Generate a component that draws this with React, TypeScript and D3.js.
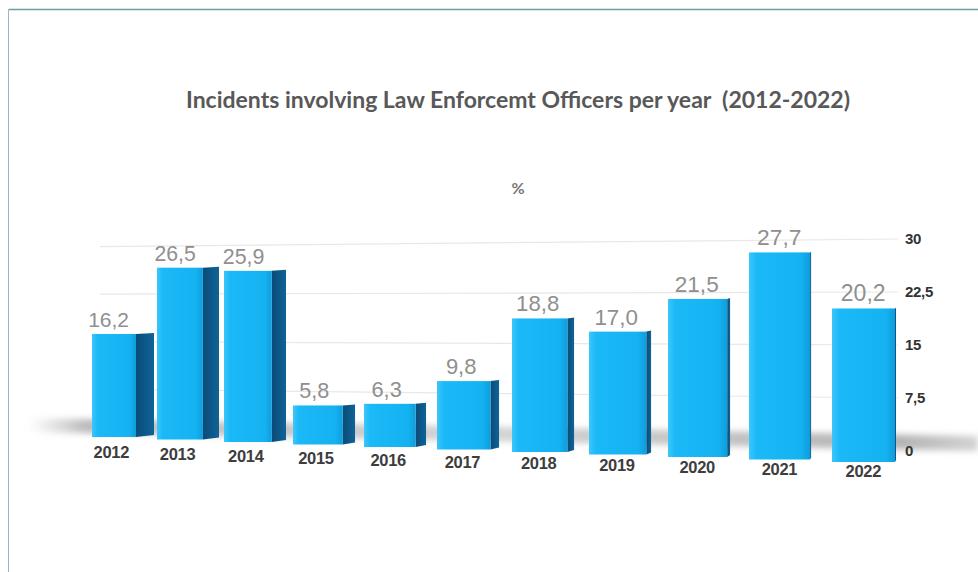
import React from 'react';
import * as d3 from 'd3';

const years = ['2012', '2013', '2014', '2015', '2016', '2017', '2018', '2019', '2020', '2021', '2022'];
const values = [16.2, 26.5, 25.9, 5.8, 6.3, 9.8, 18.8, 17.0, 21.5, 27.7, 20.2];
const yTicks = [0, 7.5, 15, 22.5, 30];
const title = 'Incidents involving Law Enforcemt Officers per year  (2012-2022)';
const unitLabel = '%';

const W = 978;
const H = 572;

const fmtVal = (v: number) => v.toFixed(1).replace('.', ',');
const fmtTick = (v: number) => String(v).replace('.', ',');

export default function App() {
  const n = values.length;
  const last = n - 1;
  // perspective helpers (all d3 scales over the bar index)
  const baseY = d3.scaleLinear().domain([0, last]).range([437, 462]);
  const unitPx = d3.scaleLinear().domain([0, last]).range([6.36, 7.6]);
  const frontW = d3.scaleLinear().domain([0, last]).range([44, 63]);
  const sideW = d3.scaleLinear().domain([0, last - 1]).range([18, 1]).clamp(true);
  const step = d3.scaleLinear().domain([0, last - 1]).range([65, 83]);
  const startX = 92;
  const steps = d3.range(n).map((i) => (i === 0 ? 0 : step(i - 1)));
  const lefts = Array.from(d3.cumsum(steps)).map((s) => startX + s);
  const valFont = d3.scaleLinear().domain([0, last]).range([21, 23]);
  const yearBase = d3.scaleLinear().domain([0, last]).range([458, 477]);

  // back wall: gridline y positions at left & right ends
  const axisY = d3.scaleLinear().domain([0, 30]).range([451, 239]);
  const gridLeftY = d3.scaleLinear().domain([0, 30]).range([436, 247]);
  const gridX0 = 100;
  const gridX1 = 898;
  const gridLineY0 = (t: number) => gridLeftY(t) + ((axisY(t) - gridLeftY(t)) * (gridX0 - 60)) / (gridX1 - 60);

  const bars = values.map((v, i) => {
    const x = lefts[i];
    const w = frontW(i);
    const s = sideW(i);
    const yb = baseY(i);
    const yt = yb - v * unitPx(i);
    return { v, i, x, w, s, yb, yt };
  });

  return (
    <svg
      width={W}
      height={H}
      viewBox={`0 0 ${W} ${H}`}
      style={{ position: 'fixed', left: 0, top: 0, display: 'block', background: '#fff' }}
    >
      <defs>
        <linearGradient id="front" x1="0" x2="1" y1="0" y2="0">
          <stop offset="0" stopColor="#3cc6fb" />
          <stop offset="0.12" stopColor="#1cb9f8" />
          <stop offset="0.85" stopColor="#15b2f2" />
          <stop offset="1" stopColor="#0e9ddb" />
        </linearGradient>
        <linearGradient id="side" x1="0" x2="1" y1="0" y2="0">
          <stop offset="0" stopColor="#0a4b78" />
          <stop offset="1" stopColor="#0e6497" />
        </linearGradient>
        <linearGradient id="floorFade" x1="28" x2="978" y1="0" y2="0" gradientUnits="userSpaceOnUse">
          <stop offset="0" stopColor="#c4c4c4" stopOpacity="0" />
          <stop offset="0.06" stopColor="#b4b4b4" stopOpacity="0.9" />
          <stop offset="0.5" stopColor="#c8c8c8" stopOpacity="0.8" />
          <stop offset="0.92" stopColor="#b0b0b0" stopOpacity="0.95" />
          <stop offset="1" stopColor="#c0c0c0" stopOpacity="0.7" />
        </linearGradient>
        <filter id="blur" x="-5%" y="-80%" width="110%" height="260%">
          <feGaussianBlur stdDeviation="3" />
        </filter>
      </defs>

      {/* frame */}
      <line x1={8.5} y1={9.5} x2={W} y2={9.5} stroke="#6f9aa8" strokeWidth={1.5} />
      <line x1={8.5} y1={9.5} x2={8.5} y2={H} stroke="#9db5c0" strokeWidth={1} />

      {/* title */}
      <text
        x={518}
        y={108}
        textAnchor="middle"
        fontFamily="Lato, 'Open Sans', sans-serif"
        fontWeight={700}
        fontSize={23}
        fill="#585858"
        style={{ whiteSpace: 'pre' }}
      >
        {title}
      </text>
      <text x={518} y={194} textAnchor="middle" fontFamily="Lato, sans-serif" fontWeight={700} fontSize={16} fill="#777">
        {unitLabel}
      </text>

      {/* gridlines on back wall */}
      {yTicks
        .filter((t) => t > 0)
        .map((t) => (
          <line key={t} x1={gridX0} y1={gridLineY0(t)} x2={gridX1} y2={axisY(t)} stroke="#e8e8e8" strokeWidth={1.2} />
        ))}

      {/* floor shadow */}
      <polygon
        points={`28,418 ${W},436 ${W},451 28,432`}
        fill="url(#floorFade)"
        filter="url(#blur)"
      />

      {/* y-axis labels */}
      {yTicks.map((t) => (
        <text
          key={t}
          x={905}
          y={axisY(t) + 5}
          fontFamily="'Liberation Sans', Arial, sans-serif"
          fontWeight={700}
          fontSize={15}
          fill="#333"
          letterSpacing={-0.3}
        >
          {fmtTick(t)}
        </text>
      ))}

      {/* bars */}
      {bars.map((b) => (
        <g key={b.i}>
          {b.s > 0.5 && (
            <polygon
              points={`${b.x + b.w},${b.yt} ${b.x + b.w + b.s},${b.yt - 1} ${b.x + b.w + b.s},${b.yb - 2} ${b.x + b.w},${b.yb}`}
              fill="url(#side)"
            />
          )}
          <rect x={b.x} y={b.yt} width={b.w} height={b.yb - b.yt} fill="url(#front)" />
          <text
            x={b.x + b.w / 2 - b.s * 0.3}
            y={b.yt - 7}
            textAnchor="middle"
            fontFamily="'Liberation Sans', Arial, sans-serif"
            fontSize={valFont(b.i)}
            fill="#8f8f8f"
          >
            {fmtVal(b.v)}
          </text>
          <text
            x={b.x + b.w / 2 - b.s * 0.15}
            y={yearBase(b.i)}
            textAnchor="middle"
            fontFamily="'Liberation Sans', Arial, sans-serif"
            fontWeight={700}
            fontSize={16.5}
            fill="#3d3d3d"
            letterSpacing={-0.3}
          >
            {years[b.i]}
          </text>
        </g>
      ))}
    </svg>
  );
}
